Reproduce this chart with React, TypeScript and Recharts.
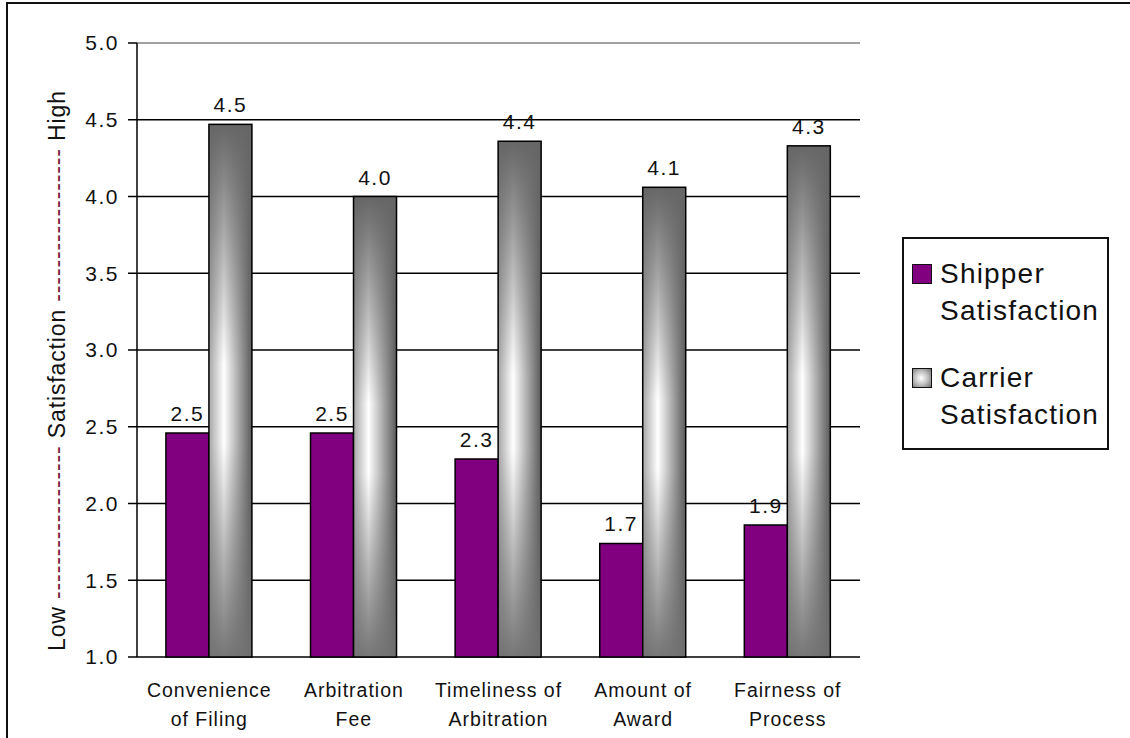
import React from 'react'
import { BarChart, Bar, XAxis, YAxis, CartesianGrid, ReferenceLine, LabelList } from 'recharts'

const FONT = '"Liberation Sans", Arial, sans-serif'

const categories = [
  'Convenience of Filing',
  'Arbitration Fee',
  'Timeliness of Arbitration',
  'Amount of Award',
  'Fairness of Process',
]
const categoryLines = [
  ['Convenience', 'of Filing'],
  ['Arbitration', 'Fee'],
  ['Timeliness of', 'Arbitration'],
  ['Amount of', 'Award'],
  ['Fairness of', 'Process'],
]
const shipperValues = [2.46, 2.46, 2.29, 1.74, 1.86]
const carrierValues = [4.47, 4.0, 4.36, 4.06, 4.33]
const yTicks = [1, 1.5, 2, 2.5, 3, 3.5, 4, 4.5, 5]
const edgeTicks = [0, 1, 2, 3, 4, 5]
const legendLines = [
  ['Shipper', 'Satisfaction'],
  ['Carrier', 'Satisfaction'],
]

const SHIPPER_COLOR = '#800080'

const data = categories.map((name, i) => ({
  name,
  shipper: shipperValues[i],
  carrier: carrierValues[i],
}))

function CategoryTick({ x, y, payload }: any) {
  const idx = categories.indexOf(payload.value)
  const lines = categoryLines[idx] || [payload.value]
  return (
    <text x={x} y={y} textAnchor="middle" fontSize={19.5} fill="#111" fontFamily={FONT} letterSpacing={1}>
      {lines.map((l, i) => (
        <tspan key={i} x={x} dy={i === 0 ? 32 : 29}>
          {l}
        </tspan>
      ))}
    </text>
  )
}

function CarrierShape(props: any) {
  const { x, y, width, height } = props
  if (!height || height <= 0) return null
  return (
    <g>
      <rect x={x} y={y} width={width} height={height} fill="url(#carrierH)" />
      <rect x={x} y={y} width={width} height={height} fill="url(#carrierV)" />
      <rect x={x} y={y} width={width} height={height} fill="none" stroke="#000" strokeWidth={1.5} />
    </g>
  )
}

function AxisTitle(props: any) {
  const vb = props.viewBox || { x: 0, y: 0, width: 0, height: 0 }
  const cx = vb.x + 57
  const cy = vb.y + vb.height / 2 + 21
  const dash = '-'.repeat(18)
  return (
    <text
      x={cx}
      y={cy}
      transform={`rotate(-90 ${cx} ${cy})`}
      textAnchor="middle"
      dominantBaseline="central"
      fontSize={23}
      fontFamily={FONT}
      fill="#111"
      textLength={560}
      lengthAdjust="spacing"
    >
      <tspan>Low </tspan>
      <tspan fill="#7a1a3a">{dash}</tspan>
      <tspan> Satisfaction </tspan>
      <tspan fill="#7a1a3a">{dash}</tspan>
      <tspan> High</tspan>
    </text>
  )
}

function LegendBox() {
  const swatches = [
    { background: SHIPPER_COLOR },
    { background: 'radial-gradient(circle at 45% 50%, #ffffff 0%, #c0c0c0 50%, #707070 100%)' },
  ]
  return (
    <div
      style={{
        position: 'absolute',
        left: 902,
        top: 237,
        width: 207,
        height: 213,
        boxSizing: 'border-box',
        border: '2px solid #111',
        background: '#fff',
        fontFamily: FONT,
        fontSize: 28,
        lineHeight: '37px',
        color: '#111',
        paddingTop: 16,
      }}
    >
      {legendLines.map((lines, i) => (
        <div key={i} style={{ position: 'relative', paddingLeft: 36, marginBottom: i === 0 ? 30 : 0 }}>
          <div
            style={{
              position: 'absolute',
              left: 8,
              top: 9,
              width: 20,
              height: 20,
              boxSizing: 'border-box',
              border: '1.5px solid #111',
              ...swatches[i],
            }}
          />
          {lines.map((l, j) => (
            <div key={j} style={{ letterSpacing: 1.2 }}>
              {l}
            </div>
          ))}
        </div>
      ))}
    </div>
  )
}

export default function App() {
  return (
    <div
      style={{
        position: 'absolute',
        left: 0,
        top: 0,
        width: 1130,
        height: 738,
        overflow: 'hidden',
        background: '#fff',
      }}
    >
      <div
        style={{
          position: 'absolute',
          left: 6,
          top: 2,
          width: 1200,
          height: 800,
          border: '2px solid #111',
        }}
      />
      <div style={{ position: 'absolute', left: 0, top: 0 }}>
        <BarChart
          width={1130}
          height={738}
          data={data}
          margin={{ top: 43, right: 270, bottom: 0, left: 0 }}
          barCategoryGap="20%"
          barGap={0}
        >
          <defs>
            <linearGradient id="carrierH" x1="0" y1="0" x2="1" y2="0">
              <stop offset="0%" stopColor="#a6a6a6" />
              <stop offset="35%" stopColor="#ffffff" />
              <stop offset="100%" stopColor="#5a5a5a" />
            </linearGradient>
            <linearGradient id="carrierV" x1="0" y1="0" x2="0" y2="1">
              <stop offset="0%" stopColor="#666666" stopOpacity={1} />
              <stop offset="45%" stopColor="#666666" stopOpacity={0} />
              <stop offset="60%" stopColor="#666666" stopOpacity={0} />
              <stop offset="100%" stopColor="#707070" stopOpacity={0.95} />
            </linearGradient>
          </defs>
          <CartesianGrid vertical={false} stroke="#000" strokeWidth={1.5} />
          <XAxis
            xAxisId="edges"
            type="number"
            domain={[0, 5]}
            ticks={edgeTicks}
            tick={false}
            height={0}
            tickSize={8}
            axisLine={{ stroke: '#000', strokeWidth: 1.5 }}
            tickLine={{ stroke: '#000', strokeWidth: 1.5 }}
          />
          <XAxis
            dataKey="name"
            height={81}
            axisLine={false}
            tickLine={false}
            interval={0}
            tick={<CategoryTick />}
          />
          <YAxis
            domain={[1, 5]}
            ticks={yTicks}
            interval={0}
            width={137}
            tickSize={9}
            tickMargin={9}
            tickFormatter={(v: number) => v.toFixed(1)}
            axisLine={{ stroke: '#000', strokeWidth: 1.5 }}
            tickLine={{ stroke: '#000', strokeWidth: 1.5 }}
            tick={{ fontSize: 21, fill: '#111', fontFamily: FONT, letterSpacing: 1.5 }}
            label={(p: any) => <AxisTitle {...p} />}
          />
          <YAxis
            yAxisId="right"
            orientation="right"
            domain={[1, 5]}
            width={0}
            tick={false}
            tickLine={false}
            axisLine={{ stroke: '#a0a0a0', strokeWidth: 2 }}
          />
          <ReferenceLine y={5} stroke="#a0a0a0" strokeWidth={2} />
          <Bar
            dataKey="shipper"
            name="Shipper Satisfaction"
            fill={SHIPPER_COLOR}
            stroke="#000"
            strokeWidth={1.5}
            isAnimationActive={false}
          >
            <LabelList
              dataKey="shipper"
              position="top"
              offset={12}
              formatter={(v: any) => Number(v).toFixed(1)}
              style={{ fontSize: 21, fill: '#111', fontFamily: FONT, letterSpacing: 1.5 }}
            />
          </Bar>
          <Bar
            dataKey="carrier"
            name="Carrier Satisfaction"
            fill="#b0b0b0"
            shape={<CarrierShape />}
            isAnimationActive={false}
          >
            <LabelList
              dataKey="carrier"
              position="top"
              offset={12}
              formatter={(v: any) => Number(v).toFixed(1)}
              style={{ fontSize: 21, fill: '#111', fontFamily: FONT, letterSpacing: 1.5 }}
            />
          </Bar>
        </BarChart>
      </div>
      <LegendBox />
    </div>
  )
}
